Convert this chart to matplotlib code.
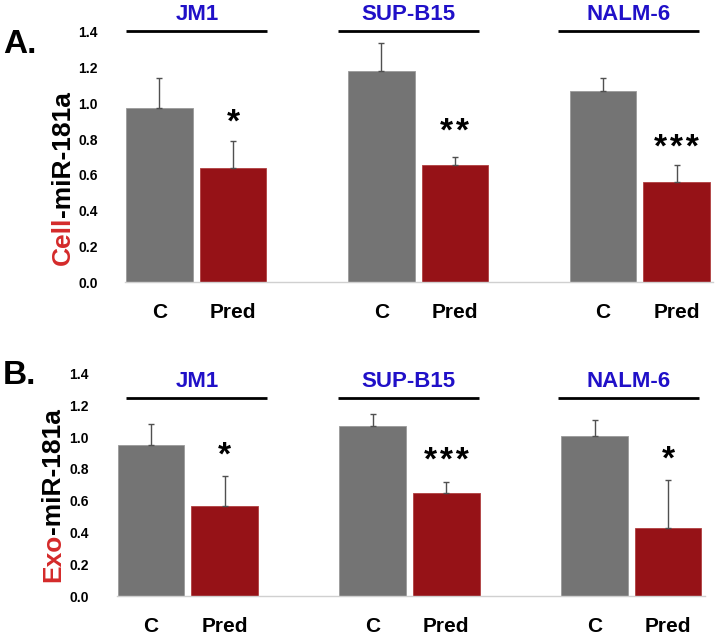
import numpy as np
import matplotlib
matplotlib.use('Agg')
import matplotlib.pyplot as plt
from matplotlib.transforms import blended_transform_factory

plt.rcParams['font.family'] = ['Liberation Sans', 'DejaVu Sans']
plt.rcParams['font.weight'] = 'bold'

# data
cell_lines = ['JM1', 'SUP-B15', 'NALM-6']
conditions = ['C', 'Pred']

cell_ctrl = [0.975, 1.18, 1.07]
cell_ctrl_err = [0.165, 0.16, 0.07]
cell_pred = [0.64, 0.655, 0.56]
cell_pred_err = [0.15, 0.045, 0.095]
cell_stars = ['*', '**', '***']

exo_ctrl = [0.95, 1.07, 1.005]
exo_ctrl_err = [0.13, 0.075, 0.10]
exo_pred = [0.566, 0.648, 0.43]
exo_pred_err = [0.19, 0.07, 0.30]
exo_stars = ['*', '***', '*']

GRAY = '#747474'
RED = '#961217'
BLUE = '#2010c8'
LABEL_RED = '#d42a2a'

fig = plt.figure(figsize=(7.16, 6.35), dpi=100)

# header positions (figure fraction) -- these overlays don't line up with bars exactly
head_x = [0.275, 0.5705, 0.878]
head_hw = 0.0985


def panel(rect, ymax, ctrl, ctrl_err, pred, pred_err, stars, star_y, head_line_y, head_text_y):
    ax = fig.add_axes(rect)
    x = np.arange(len(cell_lines))
    off = 0.166
    w = 0.30
    ekw = dict(ecolor='#505050', elinewidth=1, capsize=2.5, capthick=1)
    ax.bar(x - off, ctrl, w, color=GRAY, edgecolor='#9a9a9a', linewidth=0.6,
           yerr=[np.zeros(3), ctrl_err], error_kw=ekw)
    ax.bar(x + off, pred, w, color=RED, edgecolor='#b04040', linewidth=0.6,
           yerr=[np.zeros(3), pred_err], error_kw=ekw)
    for xi, s, sy in zip(x, stars, star_y):
        ax.text(xi + off, sy, '\u200a'.join(s), ha='center', va='baseline',
                fontsize=24, fontweight='bold')

    ax.set_xlim(-0.32, 2.33)
    ax.set_ylim(0, ymax)
    ticks = np.arange(0, 1.41, 0.2)
    ax.set_yticks(ticks)
    ax.set_yticklabels(['%.1f' % v for v in ticks], fontsize=10, fontweight='bold')
    xt = np.concatenate([x - off, x + off])
    ax.set_xticks(xt)
    ax.set_xticklabels([conditions[0]] * 3 + [conditions[1]] * 3, fontsize=15, fontweight='bold')
    ax.tick_params(axis='y', length=0, pad=20)
    ax.tick_params(axis='x', length=0, pad=15)
    for sp in ['top', 'right', 'left']:
        ax.spines[sp].set_visible(False)
    ax.spines['bottom'].set_color('#d0d0d0')
    ax.spines['bottom'].set_linewidth(1)

    tr = blended_transform_factory(fig.transFigure, ax.transData)
    for hx, name in zip(head_x, cell_lines):
        ax.plot([hx - head_hw, hx + head_hw], [head_line_y, head_line_y], color='black',
                lw=2, transform=tr, clip_on=False, solid_capstyle='butt')
        ax.text(hx, head_text_y, name, transform=tr, ha='center', va='baseline',
                color=BLUE, fontsize=16, fontweight='bold')
    return ax


axA = panel([0.175, 0.5559, 0.821, 0.4416], 1.57, cell_ctrl, cell_ctrl_err, cell_pred, cell_pred_err,
            cell_stars, [0.84, 0.79, 0.70], 1.405, 1.467)
axB = panel([0.163, 0.0614, 0.821, 0.363], 1.45, exo_ctrl, exo_ctrl_err, exo_pred, exo_pred_err,
            exo_stars, [0.83, 0.79, 0.80], 1.245, 1.314)

fig.text(0.004, 0.93, 'A.', fontsize=24, fontweight='bold', va='center')
fig.text(0.004, 0.408, 'B.', fontsize=24, fontweight='bold', va='center')


def two_color_label(x, y0, first, rest):
    t1 = fig.text(x, y0, first, rotation=90, ha='center', va='bottom', color=LABEL_RED,
                  fontsize=19, fontweight='bold')
    fig.canvas.draw()
    bb = t1.get_window_extent().transformed(fig.transFigure.inverted())
    fig.text(x, bb.y1, rest, rotation=90, ha='center', va='bottom', color='black',
             fontsize=19, fontweight='bold')


two_color_label(0.088, 0.582, 'Cell', '-miR-181a')
two_color_label(0.074, 0.083, 'Exo', '-miR-181a')

fig.savefig('out.png', dpi=100)
